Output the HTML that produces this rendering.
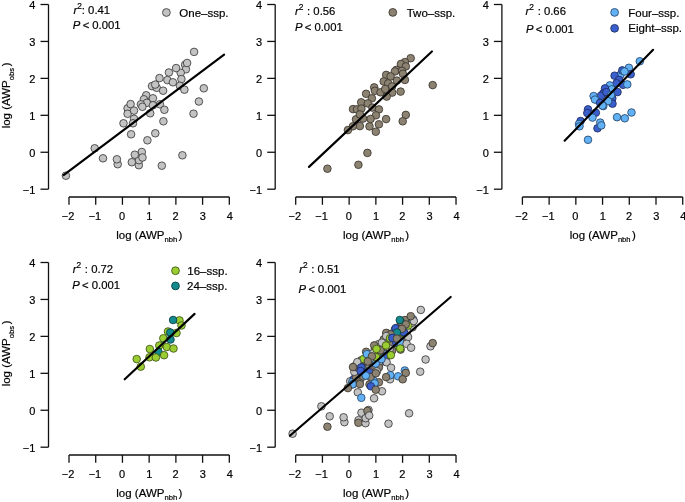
<!DOCTYPE html>
<html><head><meta charset="utf-8"><style>
html,body{margin:0;padding:0;background:#fff;}
svg{display:block;will-change:transform;}
text{font-family:"Liberation Sans", sans-serif;font-size:11px;fill:#000;stroke:#000;stroke-width:0.2px;}
.ax{stroke:#111;stroke-width:1.3;fill:none;}
.reg{stroke:#000;stroke-width:2.15;fill:none;stroke-linecap:round;}
.pt{stroke-width:0.85;}
</style></head><body>
<svg width="685" height="502" viewBox="0 0 685 502">
<g transform="translate(0,0)">
<path d="M48.5,4.5V189.2" class="ax"/>
<path d="M48.5,189.20H40.5" class="ax"/>
<text x="35.4" y="193.60" text-anchor="end">−1</text>
<path d="M48.5,152.26H40.5" class="ax"/>
<text x="35.4" y="156.66" text-anchor="end">0</text>
<path d="M48.5,115.32H40.5" class="ax"/>
<text x="35.4" y="119.72" text-anchor="end">1</text>
<path d="M48.5,78.38H40.5" class="ax"/>
<text x="35.4" y="82.78" text-anchor="end">2</text>
<path d="M48.5,41.44H40.5" class="ax"/>
<text x="35.4" y="45.84" text-anchor="end">3</text>
<path d="M48.5,4.50H40.5" class="ax"/>
<text x="35.4" y="8.90" text-anchor="end">4</text>
<path d="M69.0,197.0H229.32" class="ax"/>
<path d="M69.00,197.0V204.8" class="ax"/>
<text x="68.10" y="219.6" text-anchor="middle">−2</text>
<path d="M95.72,197.0V204.8" class="ax"/>
<text x="94.92" y="219.6" text-anchor="middle">−1</text>
<path d="M122.44,197.0V204.8" class="ax"/>
<text x="122.04" y="219.6" text-anchor="middle">0</text>
<path d="M149.16,197.0V204.8" class="ax"/>
<text x="149.36" y="219.6" text-anchor="middle">1</text>
<path d="M175.88,197.0V204.8" class="ax"/>
<text x="175.68" y="219.6" text-anchor="middle">2</text>
<path d="M202.60,197.0V204.8" class="ax"/>
<text x="202.80" y="219.6" text-anchor="middle">3</text>
<path d="M229.32,197.0V204.8" class="ax"/>
<text x="229.92" y="219.6" text-anchor="middle">4</text>
<text x="116.3" y="238.8" style="font-size:11.5px">log (AWP<tspan x="164.5" style="font-size:7.6px" dy="3.6">nbh</tspan><tspan x="178.6" dy="-3.6">)</tspan></text>
<text transform="translate(10.0,128.35) rotate(-90)" style="font-size:11.5px">log (AWP<tspan x="48.2" style="font-size:7.6px" dy="3.6">obs</tspan><tspan x="62.0" dy="-3.6">)</tspan></text>
</g>
<g transform="translate(226.7,0)">
<path d="M48.5,4.5V189.2" class="ax"/>
<path d="M48.5,189.20H40.5" class="ax"/>
<text x="35.4" y="193.60" text-anchor="end">−1</text>
<path d="M48.5,152.26H40.5" class="ax"/>
<text x="35.4" y="156.66" text-anchor="end">0</text>
<path d="M48.5,115.32H40.5" class="ax"/>
<text x="35.4" y="119.72" text-anchor="end">1</text>
<path d="M48.5,78.38H40.5" class="ax"/>
<text x="35.4" y="82.78" text-anchor="end">2</text>
<path d="M48.5,41.44H40.5" class="ax"/>
<text x="35.4" y="45.84" text-anchor="end">3</text>
<path d="M48.5,4.50H40.5" class="ax"/>
<text x="35.4" y="8.90" text-anchor="end">4</text>
<path d="M69.0,197.0H229.32" class="ax"/>
<path d="M69.00,197.0V204.8" class="ax"/>
<text x="68.10" y="219.6" text-anchor="middle">−2</text>
<path d="M95.72,197.0V204.8" class="ax"/>
<text x="94.92" y="219.6" text-anchor="middle">−1</text>
<path d="M122.44,197.0V204.8" class="ax"/>
<text x="122.04" y="219.6" text-anchor="middle">0</text>
<path d="M149.16,197.0V204.8" class="ax"/>
<text x="149.36" y="219.6" text-anchor="middle">1</text>
<path d="M175.88,197.0V204.8" class="ax"/>
<text x="175.68" y="219.6" text-anchor="middle">2</text>
<path d="M202.60,197.0V204.8" class="ax"/>
<text x="202.80" y="219.6" text-anchor="middle">3</text>
<path d="M229.32,197.0V204.8" class="ax"/>
<text x="229.92" y="219.6" text-anchor="middle">4</text>
<text x="116.3" y="238.8" style="font-size:11.5px">log (AWP<tspan x="164.5" style="font-size:7.6px" dy="3.6">nbh</tspan><tspan x="178.6" dy="-3.6">)</tspan></text>
</g>
<g transform="translate(453.4,0)">
<path d="M48.5,4.5V189.2" class="ax"/>
<path d="M48.5,189.20H40.5" class="ax"/>
<text x="35.4" y="193.60" text-anchor="end">−1</text>
<path d="M48.5,152.26H40.5" class="ax"/>
<text x="35.4" y="156.66" text-anchor="end">0</text>
<path d="M48.5,115.32H40.5" class="ax"/>
<text x="35.4" y="119.72" text-anchor="end">1</text>
<path d="M48.5,78.38H40.5" class="ax"/>
<text x="35.4" y="82.78" text-anchor="end">2</text>
<path d="M48.5,41.44H40.5" class="ax"/>
<text x="35.4" y="45.84" text-anchor="end">3</text>
<path d="M48.5,4.50H40.5" class="ax"/>
<text x="35.4" y="8.90" text-anchor="end">4</text>
<path d="M69.0,197.0H229.32" class="ax"/>
<path d="M69.00,197.0V204.8" class="ax"/>
<text x="68.10" y="219.6" text-anchor="middle">−2</text>
<path d="M95.72,197.0V204.8" class="ax"/>
<text x="94.92" y="219.6" text-anchor="middle">−1</text>
<path d="M122.44,197.0V204.8" class="ax"/>
<text x="122.04" y="219.6" text-anchor="middle">0</text>
<path d="M149.16,197.0V204.8" class="ax"/>
<text x="149.36" y="219.6" text-anchor="middle">1</text>
<path d="M175.88,197.0V204.8" class="ax"/>
<text x="175.68" y="219.6" text-anchor="middle">2</text>
<path d="M202.60,197.0V204.8" class="ax"/>
<text x="202.80" y="219.6" text-anchor="middle">3</text>
<path d="M229.32,197.0V204.8" class="ax"/>
<text x="229.92" y="219.6" text-anchor="middle">4</text>
<text x="116.3" y="238.8" style="font-size:11.5px">log (AWP<tspan x="164.5" style="font-size:7.6px" dy="3.6">nbh</tspan><tspan x="178.6" dy="-3.6">)</tspan></text>
</g>
<g transform="translate(0,258)">
<path d="M48.5,4.5V189.2" class="ax"/>
<path d="M48.5,189.20H40.5" class="ax"/>
<text x="35.4" y="193.60" text-anchor="end">−1</text>
<path d="M48.5,152.26H40.5" class="ax"/>
<text x="35.4" y="156.66" text-anchor="end">0</text>
<path d="M48.5,115.32H40.5" class="ax"/>
<text x="35.4" y="119.72" text-anchor="end">1</text>
<path d="M48.5,78.38H40.5" class="ax"/>
<text x="35.4" y="82.78" text-anchor="end">2</text>
<path d="M48.5,41.44H40.5" class="ax"/>
<text x="35.4" y="45.84" text-anchor="end">3</text>
<path d="M48.5,4.50H40.5" class="ax"/>
<text x="35.4" y="8.90" text-anchor="end">4</text>
<path d="M69.0,197.0H229.32" class="ax"/>
<path d="M69.00,197.0V204.8" class="ax"/>
<text x="68.10" y="219.6" text-anchor="middle">−2</text>
<path d="M95.72,197.0V204.8" class="ax"/>
<text x="94.92" y="219.6" text-anchor="middle">−1</text>
<path d="M122.44,197.0V204.8" class="ax"/>
<text x="122.04" y="219.6" text-anchor="middle">0</text>
<path d="M149.16,197.0V204.8" class="ax"/>
<text x="149.36" y="219.6" text-anchor="middle">1</text>
<path d="M175.88,197.0V204.8" class="ax"/>
<text x="175.68" y="219.6" text-anchor="middle">2</text>
<path d="M202.60,197.0V204.8" class="ax"/>
<text x="202.80" y="219.6" text-anchor="middle">3</text>
<path d="M229.32,197.0V204.8" class="ax"/>
<text x="229.92" y="219.6" text-anchor="middle">4</text>
<text x="116.3" y="238.8" style="font-size:11.5px">log (AWP<tspan x="164.5" style="font-size:7.6px" dy="3.6">nbh</tspan><tspan x="178.6" dy="-3.6">)</tspan></text>
<text transform="translate(10.0,128.35) rotate(-90)" style="font-size:11.5px">log (AWP<tspan x="48.2" style="font-size:7.6px" dy="3.6">obs</tspan><tspan x="62.0" dy="-3.6">)</tspan></text>
</g>
<g transform="translate(226.7,258)">
<path d="M48.5,4.5V189.2" class="ax"/>
<path d="M48.5,189.20H40.5" class="ax"/>
<text x="35.4" y="193.60" text-anchor="end">−1</text>
<path d="M48.5,152.26H40.5" class="ax"/>
<text x="35.4" y="156.66" text-anchor="end">0</text>
<path d="M48.5,115.32H40.5" class="ax"/>
<text x="35.4" y="119.72" text-anchor="end">1</text>
<path d="M48.5,78.38H40.5" class="ax"/>
<text x="35.4" y="82.78" text-anchor="end">2</text>
<path d="M48.5,41.44H40.5" class="ax"/>
<text x="35.4" y="45.84" text-anchor="end">3</text>
<path d="M48.5,4.50H40.5" class="ax"/>
<text x="35.4" y="8.90" text-anchor="end">4</text>
<path d="M69.0,197.0H229.32" class="ax"/>
<path d="M69.00,197.0V204.8" class="ax"/>
<text x="68.10" y="219.6" text-anchor="middle">−2</text>
<path d="M95.72,197.0V204.8" class="ax"/>
<text x="94.92" y="219.6" text-anchor="middle">−1</text>
<path d="M122.44,197.0V204.8" class="ax"/>
<text x="122.04" y="219.6" text-anchor="middle">0</text>
<path d="M149.16,197.0V204.8" class="ax"/>
<text x="149.36" y="219.6" text-anchor="middle">1</text>
<path d="M175.88,197.0V204.8" class="ax"/>
<text x="175.68" y="219.6" text-anchor="middle">2</text>
<path d="M202.60,197.0V204.8" class="ax"/>
<text x="202.80" y="219.6" text-anchor="middle">3</text>
<path d="M229.32,197.0V204.8" class="ax"/>
<text x="229.92" y="219.6" text-anchor="middle">4</text>
<text x="116.3" y="238.8" style="font-size:11.5px">log (AWP<tspan x="164.5" style="font-size:7.6px" dy="3.6">nbh</tspan><tspan x="178.6" dy="-3.6">)</tspan></text>
</g>
<text x="73.4" y="13.8" style="font-size:11.3px"><tspan font-style="italic">r</tspan><tspan style="font-size:8.4px" dy="-5.0">2</tspan><tspan dy="5.0" dx="0">: 0.41</tspan></text><text x="72.80000000000001" y="28.7" style="font-size:11.3px"><tspan font-style="italic">P</tspan><tspan dx="-0.8"> &lt; </tspan><tspan dx="-0.1">0.001</tspan></text>
<text x="295.0" y="14.6" style="font-size:11.3px"><tspan font-style="italic">r</tspan><tspan style="font-size:8.4px" dy="-5.0">2</tspan><tspan dy="5.0" dx="0.5"> : 0.56</tspan></text><text x="294.9" y="30.9" style="font-size:11.3px"><tspan font-style="italic">P</tspan><tspan dx="-0.8"> &lt; </tspan><tspan dx="-0.1">0.001</tspan></text>
<text x="525.6" y="14.6" style="font-size:11.3px"><tspan font-style="italic">r</tspan><tspan style="font-size:8.4px" dy="-5.0">2</tspan><tspan dy="5.0" dx="0.5"> : 0.66</tspan></text><text x="526.0" y="33.0" style="font-size:11.3px"><tspan font-style="italic">P</tspan><tspan dx="-0.8"> &lt; </tspan><tspan dx="-0.1">0.001</tspan></text>
<text x="72.8" y="272.5" style="font-size:11.3px"><tspan font-style="italic">r</tspan><tspan style="font-size:8.4px" dy="-5.0">2</tspan><tspan dy="5.0" dx="0.5"> : 0.72</tspan></text><text x="72.2" y="289.1" style="font-size:11.3px"><tspan font-style="italic">P</tspan><tspan dx="-0.8"> &lt; </tspan><tspan dx="-0.1">0.001</tspan></text>
<text x="299.2" y="272.5" style="font-size:11.3px"><tspan font-style="italic">r</tspan><tspan style="font-size:8.4px" dy="-5.0">2</tspan><tspan dy="5.0" dx="0.5"> : 0.51</tspan></text><text x="298.59999999999997" y="293.0" style="font-size:11.3px"><tspan font-style="italic">P</tspan><tspan dx="-0.8"> &lt; </tspan><tspan dx="-0.1">0.001</tspan></text>
<circle cx="166.4" cy="12.5" r="3.9" fill="#c3c3c3" stroke="#3a3a3a" class="pt"/><text x="179.3" y="16.6" style="font-size:11.5px">One–ssp.</text>
<circle cx="392.8" cy="12.4" r="3.9" fill="#8b8272" stroke="#3a342c" class="pt"/><text x="406.7" y="16.6" style="font-size:11.5px">Two–ssp.</text>
<circle cx="614.6" cy="12.4" r="3.9" fill="#63b1f5" stroke="#23476e" class="pt"/><text x="628.3" y="16.5" style="font-size:11.5px">Four–ssp.</text>
<circle cx="614.6" cy="28.3" r="3.9" fill="#3a5fcd" stroke="#1b2a60" class="pt"/><text x="628.3" y="32.0" style="font-size:11.5px">Eight–ssp.</text>
<circle cx="175.5" cy="270.7" r="3.9" fill="#9acd32" stroke="#3d5514" class="pt"/><text x="187.3" y="274.8" style="font-size:11.5px">16–ssp.</text>
<circle cx="175.5" cy="285.9" r="3.9" fill="#138a8e" stroke="#0a3c40" class="pt"/><text x="187.1" y="289.8" style="font-size:11.5px">24–ssp.</text>
<g transform="translate(0,0)">
<circle cx="194.1" cy="51.9" r="3.8" fill="#c3c3c3" stroke="#3a3a3a" class="pt"/>
<circle cx="185.1" cy="64.8" r="3.8" fill="#c3c3c3" stroke="#3a3a3a" class="pt"/>
<circle cx="185.9" cy="69.3" r="3.8" fill="#c3c3c3" stroke="#3a3a3a" class="pt"/>
<circle cx="187.1" cy="63.0" r="3.8" fill="#c3c3c3" stroke="#3a3a3a" class="pt"/>
<circle cx="180.7" cy="72.8" r="3.8" fill="#c3c3c3" stroke="#3a3a3a" class="pt"/>
<circle cx="176.1" cy="68.1" r="3.8" fill="#c3c3c3" stroke="#3a3a3a" class="pt"/>
<circle cx="168.9" cy="72.5" r="3.8" fill="#c3c3c3" stroke="#3a3a3a" class="pt"/>
<circle cx="181.4" cy="79.1" r="3.8" fill="#c3c3c3" stroke="#3a3a3a" class="pt"/>
<circle cx="159.5" cy="78.1" r="3.8" fill="#c3c3c3" stroke="#3a3a3a" class="pt"/>
<circle cx="167.4" cy="80.1" r="3.8" fill="#c3c3c3" stroke="#3a3a3a" class="pt"/>
<circle cx="172.9" cy="82.3" r="3.8" fill="#c3c3c3" stroke="#3a3a3a" class="pt"/>
<circle cx="152.0" cy="86.1" r="3.8" fill="#c3c3c3" stroke="#3a3a3a" class="pt"/>
<circle cx="156.7" cy="87.8" r="3.8" fill="#c3c3c3" stroke="#3a3a3a" class="pt"/>
<circle cx="155.2" cy="84.6" r="3.8" fill="#c3c3c3" stroke="#3a3a3a" class="pt"/>
<circle cx="179.9" cy="85.8" r="3.8" fill="#c3c3c3" stroke="#3a3a3a" class="pt"/>
<circle cx="184.4" cy="89.7" r="3.8" fill="#c3c3c3" stroke="#3a3a3a" class="pt"/>
<circle cx="203.8" cy="88.3" r="3.8" fill="#c3c3c3" stroke="#3a3a3a" class="pt"/>
<circle cx="163.1" cy="90.7" r="3.8" fill="#c3c3c3" stroke="#3a3a3a" class="pt"/>
<circle cx="146.2" cy="95.3" r="3.8" fill="#c3c3c3" stroke="#3a3a3a" class="pt"/>
<circle cx="152.9" cy="98.3" r="3.8" fill="#c3c3c3" stroke="#3a3a3a" class="pt"/>
<circle cx="143.9" cy="99.3" r="3.8" fill="#c3c3c3" stroke="#3a3a3a" class="pt"/>
<circle cx="146.9" cy="102.8" r="3.8" fill="#c3c3c3" stroke="#3a3a3a" class="pt"/>
<circle cx="140.9" cy="104.3" r="3.8" fill="#c3c3c3" stroke="#3a3a3a" class="pt"/>
<circle cx="142.4" cy="106.8" r="3.8" fill="#c3c3c3" stroke="#3a3a3a" class="pt"/>
<circle cx="159.9" cy="104.3" r="3.8" fill="#c3c3c3" stroke="#3a3a3a" class="pt"/>
<circle cx="152.9" cy="105.3" r="3.8" fill="#c3c3c3" stroke="#3a3a3a" class="pt"/>
<circle cx="150.2" cy="113.3" r="3.8" fill="#c3c3c3" stroke="#3a3a3a" class="pt"/>
<circle cx="164.4" cy="109.8" r="3.8" fill="#c3c3c3" stroke="#3a3a3a" class="pt"/>
<circle cx="127.6" cy="108.3" r="3.8" fill="#c3c3c3" stroke="#3a3a3a" class="pt"/>
<circle cx="130.6" cy="104.1" r="3.8" fill="#c3c3c3" stroke="#3a3a3a" class="pt"/>
<circle cx="127.6" cy="113.8" r="3.8" fill="#c3c3c3" stroke="#3a3a3a" class="pt"/>
<circle cx="134" cy="110.6" r="3.8" fill="#c3c3c3" stroke="#3a3a3a" class="pt"/>
<circle cx="134" cy="118.8" r="3.8" fill="#c3c3c3" stroke="#3a3a3a" class="pt"/>
<circle cx="123.5" cy="123.3" r="3.8" fill="#c3c3c3" stroke="#3a3a3a" class="pt"/>
<circle cx="163.4" cy="121.3" r="3.8" fill="#c3c3c3" stroke="#3a3a3a" class="pt"/>
<circle cx="133" cy="123.3" r="3.8" fill="#c3c3c3" stroke="#3a3a3a" class="pt"/>
<circle cx="131.1" cy="134.3" r="3.8" fill="#c3c3c3" stroke="#3a3a3a" class="pt"/>
<circle cx="155.3" cy="133.3" r="3.8" fill="#c3c3c3" stroke="#3a3a3a" class="pt"/>
<circle cx="147.4" cy="140.3" r="3.8" fill="#c3c3c3" stroke="#3a3a3a" class="pt"/>
<circle cx="103" cy="158.3" r="3.8" fill="#c3c3c3" stroke="#3a3a3a" class="pt"/>
<circle cx="117.7" cy="164.2" r="3.8" fill="#c3c3c3" stroke="#3a3a3a" class="pt"/>
<circle cx="116.9" cy="159.3" r="3.8" fill="#c3c3c3" stroke="#3a3a3a" class="pt"/>
<circle cx="138.8" cy="165.2" r="3.8" fill="#c3c3c3" stroke="#3a3a3a" class="pt"/>
<circle cx="141.8" cy="152.0" r="3.8" fill="#c3c3c3" stroke="#3a3a3a" class="pt"/>
<circle cx="139.0" cy="160.2" r="3.8" fill="#c3c3c3" stroke="#3a3a3a" class="pt"/>
<circle cx="142.5" cy="157.5" r="3.8" fill="#c3c3c3" stroke="#3a3a3a" class="pt"/>
<circle cx="134.8" cy="154.7" r="3.8" fill="#c3c3c3" stroke="#3a3a3a" class="pt"/>
<circle cx="131.8" cy="162.2" r="3.8" fill="#c3c3c3" stroke="#3a3a3a" class="pt"/>
<circle cx="161.8" cy="165.7" r="3.8" fill="#c3c3c3" stroke="#3a3a3a" class="pt"/>
<circle cx="198.9" cy="101.5" r="3.8" fill="#c3c3c3" stroke="#3a3a3a" class="pt"/>
<circle cx="193.5" cy="113.7" r="3.8" fill="#c3c3c3" stroke="#3a3a3a" class="pt"/>
<circle cx="182.4" cy="155.3" r="3.8" fill="#c3c3c3" stroke="#3a3a3a" class="pt"/>
<circle cx="65.9" cy="175.7" r="3.8" fill="#c3c3c3" stroke="#3a3a3a" class="pt"/>
<circle cx="94.7" cy="148.3" r="3.8" fill="#c3c3c3" stroke="#3a3a3a" class="pt"/>
</g>
<g transform="translate(226.7,0)">
<circle cx="184.0" cy="58.2" r="3.8" fill="#8b8272" stroke="#3a342c" class="pt"/>
<circle cx="178.2" cy="62.1" r="3.8" fill="#8b8272" stroke="#3a342c" class="pt"/>
<circle cx="174.2" cy="64.0" r="3.8" fill="#8b8272" stroke="#3a342c" class="pt"/>
<circle cx="179.1" cy="66.4" r="3.8" fill="#8b8272" stroke="#3a342c" class="pt"/>
<circle cx="169.7" cy="69.9" r="3.8" fill="#8b8272" stroke="#3a342c" class="pt"/>
<circle cx="175.2" cy="70.8" r="3.8" fill="#8b8272" stroke="#3a342c" class="pt"/>
<circle cx="168.2" cy="71.4" r="3.8" fill="#8b8272" stroke="#3a342c" class="pt"/>
<circle cx="176.2" cy="73.8" r="3.8" fill="#8b8272" stroke="#3a342c" class="pt"/>
<circle cx="159.5" cy="74.9" r="3.8" fill="#8b8272" stroke="#3a342c" class="pt"/>
<circle cx="163.9" cy="76.4" r="3.8" fill="#8b8272" stroke="#3a342c" class="pt"/>
<circle cx="178.2" cy="79.9" r="3.8" fill="#8b8272" stroke="#3a342c" class="pt"/>
<circle cx="170.2" cy="80.6" r="3.8" fill="#8b8272" stroke="#3a342c" class="pt"/>
<circle cx="157.0" cy="81.4" r="3.8" fill="#8b8272" stroke="#3a342c" class="pt"/>
<circle cx="161.5" cy="83.4" r="3.8" fill="#8b8272" stroke="#3a342c" class="pt"/>
<circle cx="165.4" cy="86.4" r="3.8" fill="#8b8272" stroke="#3a342c" class="pt"/>
<circle cx="147.5" cy="87.4" r="3.8" fill="#8b8272" stroke="#3a342c" class="pt"/>
<circle cx="148.2" cy="90.8" r="3.8" fill="#8b8272" stroke="#3a342c" class="pt"/>
<circle cx="153.8" cy="92.3" r="3.8" fill="#8b8272" stroke="#3a342c" class="pt"/>
<circle cx="158.5" cy="89.0" r="3.8" fill="#8b8272" stroke="#3a342c" class="pt"/>
<circle cx="173.9" cy="91.6" r="3.8" fill="#8b8272" stroke="#3a342c" class="pt"/>
<circle cx="165.5" cy="92.6" r="3.8" fill="#8b8272" stroke="#3a342c" class="pt"/>
<circle cx="206.0" cy="85.1" r="3.8" fill="#8b8272" stroke="#3a342c" class="pt"/>
<circle cx="160.0" cy="96.6" r="3.8" fill="#8b8272" stroke="#3a342c" class="pt"/>
<circle cx="139.4" cy="93.8" r="3.8" fill="#8b8272" stroke="#3a342c" class="pt"/>
<circle cx="145.2" cy="98.3" r="3.8" fill="#8b8272" stroke="#3a342c" class="pt"/>
<circle cx="134.5" cy="102.3" r="3.8" fill="#8b8272" stroke="#3a342c" class="pt"/>
<circle cx="141.1" cy="103.4" r="3.8" fill="#8b8272" stroke="#3a342c" class="pt"/>
<circle cx="126.3" cy="109.1" r="3.8" fill="#8b8272" stroke="#3a342c" class="pt"/>
<circle cx="130.3" cy="109.4" r="3.8" fill="#8b8272" stroke="#3a342c" class="pt"/>
<circle cx="134.7" cy="108.6" r="3.8" fill="#8b8272" stroke="#3a342c" class="pt"/>
<circle cx="145.7" cy="107.6" r="3.8" fill="#8b8272" stroke="#3a342c" class="pt"/>
<circle cx="152.2" cy="109.4" r="3.8" fill="#8b8272" stroke="#3a342c" class="pt"/>
<circle cx="149.2" cy="115.3" r="3.8" fill="#8b8272" stroke="#3a342c" class="pt"/>
<circle cx="129.3" cy="119.3" r="3.8" fill="#8b8272" stroke="#3a342c" class="pt"/>
<circle cx="136.4" cy="118.6" r="3.8" fill="#8b8272" stroke="#3a342c" class="pt"/>
<circle cx="143.9" cy="119.0" r="3.8" fill="#8b8272" stroke="#3a342c" class="pt"/>
<circle cx="159.4" cy="119.1" r="3.8" fill="#8b8272" stroke="#3a342c" class="pt"/>
<circle cx="133.2" cy="114.4" r="3.8" fill="#8b8272" stroke="#3a342c" class="pt"/>
<circle cx="133.2" cy="126.1" r="3.8" fill="#8b8272" stroke="#3a342c" class="pt"/>
<circle cx="126.2" cy="126.3" r="3.8" fill="#8b8272" stroke="#3a342c" class="pt"/>
<circle cx="121.2" cy="130.1" r="3.8" fill="#8b8272" stroke="#3a342c" class="pt"/>
<circle cx="142.8" cy="126.4" r="3.8" fill="#8b8272" stroke="#3a342c" class="pt"/>
<circle cx="152.2" cy="124.3" r="3.8" fill="#8b8272" stroke="#3a342c" class="pt"/>
<circle cx="149.1" cy="131.7" r="3.8" fill="#8b8272" stroke="#3a342c" class="pt"/>
<circle cx="179.1" cy="114.9" r="3.8" fill="#8b8272" stroke="#3a342c" class="pt"/>
<circle cx="176.0" cy="121.3" r="3.8" fill="#8b8272" stroke="#3a342c" class="pt"/>
<circle cx="140.7" cy="152.9" r="3.8" fill="#8b8272" stroke="#3a342c" class="pt"/>
<circle cx="131.7" cy="164.8" r="3.8" fill="#8b8272" stroke="#3a342c" class="pt"/>
<circle cx="100.7" cy="168.7" r="3.8" fill="#8b8272" stroke="#3a342c" class="pt"/>
</g>
<g transform="translate(453.4,0)">
<circle cx="167.1" cy="74.8" r="3.8" fill="#63b1f5" stroke="#23476e" class="pt"/>
<circle cx="168.9" cy="70.4" r="3.8" fill="#3a5fcd" stroke="#1b2a60" class="pt"/>
<circle cx="186.4" cy="61.3" r="3.8" fill="#63b1f5" stroke="#23476e" class="pt"/>
<circle cx="175.5" cy="67.8" r="3.8" fill="#63b1f5" stroke="#23476e" class="pt"/>
<circle cx="177.3" cy="74.3" r="3.8" fill="#3a5fcd" stroke="#1b2a60" class="pt"/>
<circle cx="161.2" cy="75.7" r="3.8" fill="#3a5fcd" stroke="#1b2a60" class="pt"/>
<circle cx="171.1" cy="71.5" r="3.8" fill="#63b1f5" stroke="#23476e" class="pt"/>
<circle cx="165.6" cy="79.9" r="3.8" fill="#3a5fcd" stroke="#1b2a60" class="pt"/>
<circle cx="169.6" cy="84.8" r="3.8" fill="#3a5fcd" stroke="#1b2a60" class="pt"/>
<circle cx="173.9" cy="84.4" r="3.8" fill="#63b1f5" stroke="#23476e" class="pt"/>
<circle cx="163.1" cy="83.3" r="3.8" fill="#3a5fcd" stroke="#1b2a60" class="pt"/>
<circle cx="156.4" cy="85.4" r="3.8" fill="#63b1f5" stroke="#23476e" class="pt"/>
<circle cx="158.3" cy="89.4" r="3.8" fill="#63b1f5" stroke="#23476e" class="pt"/>
<circle cx="151.6" cy="88.4" r="3.8" fill="#3a5fcd" stroke="#1b2a60" class="pt"/>
<circle cx="164.1" cy="92.1" r="3.8" fill="#3a5fcd" stroke="#1b2a60" class="pt"/>
<circle cx="149.9" cy="93.3" r="3.8" fill="#3a5fcd" stroke="#1b2a60" class="pt"/>
<circle cx="147.6" cy="95.7" r="3.8" fill="#3a5fcd" stroke="#1b2a60" class="pt"/>
<circle cx="140.2" cy="96.1" r="3.8" fill="#63b1f5" stroke="#23476e" class="pt"/>
<circle cx="141.6" cy="99.6" r="3.8" fill="#63b1f5" stroke="#23476e" class="pt"/>
<circle cx="152.9" cy="92.1" r="3.8" fill="#3a5fcd" stroke="#1b2a60" class="pt"/>
<circle cx="158.9" cy="98.3" r="3.8" fill="#3a5fcd" stroke="#1b2a60" class="pt"/>
<circle cx="157.6" cy="95.1" r="3.8" fill="#63b1f5" stroke="#23476e" class="pt"/>
<circle cx="159.1" cy="103.7" r="3.8" fill="#3a5fcd" stroke="#1b2a60" class="pt"/>
<circle cx="154.7" cy="101.1" r="3.8" fill="#63b1f5" stroke="#23476e" class="pt"/>
<circle cx="146.7" cy="102.9" r="3.8" fill="#3a5fcd" stroke="#1b2a60" class="pt"/>
<circle cx="149.9" cy="106.1" r="3.8" fill="#63b1f5" stroke="#23476e" class="pt"/>
<circle cx="149.1" cy="105.6" r="3.8" fill="#63b1f5" stroke="#23476e" class="pt"/>
<circle cx="134.6" cy="109.4" r="3.8" fill="#3a5fcd" stroke="#1b2a60" class="pt"/>
<circle cx="133.9" cy="113.0" r="3.8" fill="#3a5fcd" stroke="#1b2a60" class="pt"/>
<circle cx="142.4" cy="112.7" r="3.8" fill="#3a5fcd" stroke="#1b2a60" class="pt"/>
<circle cx="139.1" cy="117.6" r="3.8" fill="#63b1f5" stroke="#23476e" class="pt"/>
<circle cx="127.2" cy="121.0" r="3.8" fill="#3a5fcd" stroke="#1b2a60" class="pt"/>
<circle cx="125.6" cy="124.0" r="3.8" fill="#63b1f5" stroke="#23476e" class="pt"/>
<circle cx="126.1" cy="126.3" r="3.8" fill="#63b1f5" stroke="#23476e" class="pt"/>
<circle cx="144.1" cy="128.3" r="3.8" fill="#3a5fcd" stroke="#1b2a60" class="pt"/>
<circle cx="146.8" cy="122.6" r="3.8" fill="#63b1f5" stroke="#23476e" class="pt"/>
<circle cx="147.9" cy="125.4" r="3.8" fill="#63b1f5" stroke="#23476e" class="pt"/>
<circle cx="163.6" cy="117.2" r="3.8" fill="#63b1f5" stroke="#23476e" class="pt"/>
<circle cx="171.4" cy="118.3" r="3.8" fill="#63b1f5" stroke="#23476e" class="pt"/>
<circle cx="178.1" cy="112.5" r="3.8" fill="#63b1f5" stroke="#23476e" class="pt"/>
<circle cx="134.6" cy="139.8" r="3.8" fill="#63b1f5" stroke="#23476e" class="pt"/>
</g>
<g transform="translate(0,258)">
<circle cx="179.5" cy="62.4" r="3.8" fill="#9acd32" stroke="#3d5514" class="pt"/>
<circle cx="173.1" cy="62.0" r="3.8" fill="#138a8e" stroke="#0a3c40" class="pt"/>
<circle cx="181.5" cy="67.5" r="3.8" fill="#9acd32" stroke="#3d5514" class="pt"/>
<circle cx="176.5" cy="75.0" r="3.8" fill="#9acd32" stroke="#3d5514" class="pt"/>
<circle cx="168.0" cy="73.5" r="3.8" fill="#9acd32" stroke="#3d5514" class="pt"/>
<circle cx="170.3" cy="74.5" r="3.8" fill="#138a8e" stroke="#0a3c40" class="pt"/>
<circle cx="163.3" cy="80.3" r="3.8" fill="#9acd32" stroke="#3d5514" class="pt"/>
<circle cx="170.5" cy="81.5" r="3.8" fill="#138a8e" stroke="#0a3c40" class="pt"/>
<circle cx="159.3" cy="87.5" r="3.8" fill="#9acd32" stroke="#3d5514" class="pt"/>
<circle cx="166.8" cy="89.0" r="3.8" fill="#9acd32" stroke="#3d5514" class="pt"/>
<circle cx="173.5" cy="90.5" r="3.8" fill="#9acd32" stroke="#3d5514" class="pt"/>
<circle cx="149.8" cy="91.0" r="3.8" fill="#9acd32" stroke="#3d5514" class="pt"/>
<circle cx="158.5" cy="94.0" r="3.8" fill="#138a8e" stroke="#0a3c40" class="pt"/>
<circle cx="149.5" cy="99.3" r="3.8" fill="#9acd32" stroke="#3d5514" class="pt"/>
<circle cx="155.9" cy="99.5" r="3.8" fill="#9acd32" stroke="#3d5514" class="pt"/>
<circle cx="164.1" cy="97.2" r="3.8" fill="#9acd32" stroke="#3d5514" class="pt"/>
<circle cx="136.7" cy="101.1" r="3.8" fill="#9acd32" stroke="#3d5514" class="pt"/>
<circle cx="140.8" cy="108.7" r="3.8" fill="#9acd32" stroke="#3d5514" class="pt"/>
</g>
<g transform="translate(226.7,258)">
<circle cx="155.3" cy="133.3" r="3.8" fill="#c3c3c3" stroke="#3a3a3a" class="pt"/>
<circle cx="168.9" cy="72.5" r="3.8" fill="#c3c3c3" stroke="#3a3a3a" class="pt"/>
<circle cx="143.9" cy="99.3" r="3.8" fill="#c3c3c3" stroke="#3a3a3a" class="pt"/>
<circle cx="161.8" cy="165.7" r="3.8" fill="#c3c3c3" stroke="#3a3a3a" class="pt"/>
<circle cx="100.7" cy="168.7" r="3.8" fill="#8b8272" stroke="#3a342c" class="pt"/>
<circle cx="152.2" cy="124.3" r="3.8" fill="#8b8272" stroke="#3a342c" class="pt"/>
<circle cx="182.4" cy="155.3" r="3.8" fill="#c3c3c3" stroke="#3a3a3a" class="pt"/>
<circle cx="178.2" cy="79.9" r="3.8" fill="#8b8272" stroke="#3a342c" class="pt"/>
<circle cx="134" cy="118.8" r="3.8" fill="#c3c3c3" stroke="#3a3a3a" class="pt"/>
<circle cx="175.5" cy="67.8" r="3.8" fill="#63b1f5" stroke="#23476e" class="pt"/>
<circle cx="123.5" cy="123.3" r="3.8" fill="#c3c3c3" stroke="#3a3a3a" class="pt"/>
<circle cx="185.9" cy="69.3" r="3.8" fill="#c3c3c3" stroke="#3a3a3a" class="pt"/>
<circle cx="127.2" cy="121.0" r="3.8" fill="#3a5fcd" stroke="#1b2a60" class="pt"/>
<circle cx="149.9" cy="106.1" r="3.8" fill="#63b1f5" stroke="#23476e" class="pt"/>
<circle cx="157.0" cy="81.4" r="3.8" fill="#8b8272" stroke="#3a342c" class="pt"/>
<circle cx="133" cy="123.3" r="3.8" fill="#c3c3c3" stroke="#3a3a3a" class="pt"/>
<circle cx="179.5" cy="62.4" r="3.8" fill="#9acd32" stroke="#3d5514" class="pt"/>
<circle cx="140.8" cy="108.7" r="3.8" fill="#9acd32" stroke="#3d5514" class="pt"/>
<circle cx="164.1" cy="92.1" r="3.8" fill="#3a5fcd" stroke="#1b2a60" class="pt"/>
<circle cx="171.1" cy="71.5" r="3.8" fill="#63b1f5" stroke="#23476e" class="pt"/>
<circle cx="180.7" cy="72.8" r="3.8" fill="#c3c3c3" stroke="#3a3a3a" class="pt"/>
<circle cx="156.4" cy="85.4" r="3.8" fill="#63b1f5" stroke="#23476e" class="pt"/>
<circle cx="151.6" cy="88.4" r="3.8" fill="#3a5fcd" stroke="#1b2a60" class="pt"/>
<circle cx="178.2" cy="62.1" r="3.8" fill="#8b8272" stroke="#3a342c" class="pt"/>
<circle cx="152.9" cy="105.3" r="3.8" fill="#c3c3c3" stroke="#3a3a3a" class="pt"/>
<circle cx="134.7" cy="108.6" r="3.8" fill="#8b8272" stroke="#3a342c" class="pt"/>
<circle cx="160.0" cy="96.6" r="3.8" fill="#8b8272" stroke="#3a342c" class="pt"/>
<circle cx="152.9" cy="92.1" r="3.8" fill="#3a5fcd" stroke="#1b2a60" class="pt"/>
<circle cx="152.2" cy="109.4" r="3.8" fill="#8b8272" stroke="#3a342c" class="pt"/>
<circle cx="176.5" cy="75.0" r="3.8" fill="#9acd32" stroke="#3d5514" class="pt"/>
<circle cx="103" cy="158.3" r="3.8" fill="#c3c3c3" stroke="#3a3a3a" class="pt"/>
<circle cx="185.1" cy="64.8" r="3.8" fill="#c3c3c3" stroke="#3a3a3a" class="pt"/>
<circle cx="168.0" cy="73.5" r="3.8" fill="#9acd32" stroke="#3d5514" class="pt"/>
<circle cx="149.9" cy="93.3" r="3.8" fill="#3a5fcd" stroke="#1b2a60" class="pt"/>
<circle cx="127.6" cy="108.3" r="3.8" fill="#c3c3c3" stroke="#3a3a3a" class="pt"/>
<circle cx="65.9" cy="175.7" r="3.8" fill="#c3c3c3" stroke="#3a3a3a" class="pt"/>
<circle cx="146.7" cy="102.9" r="3.8" fill="#3a5fcd" stroke="#1b2a60" class="pt"/>
<circle cx="158.3" cy="89.4" r="3.8" fill="#63b1f5" stroke="#23476e" class="pt"/>
<circle cx="159.1" cy="103.7" r="3.8" fill="#3a5fcd" stroke="#1b2a60" class="pt"/>
<circle cx="168.2" cy="71.4" r="3.8" fill="#8b8272" stroke="#3a342c" class="pt"/>
<circle cx="142.4" cy="112.7" r="3.8" fill="#3a5fcd" stroke="#1b2a60" class="pt"/>
<circle cx="163.1" cy="83.3" r="3.8" fill="#3a5fcd" stroke="#1b2a60" class="pt"/>
<circle cx="142.8" cy="126.4" r="3.8" fill="#8b8272" stroke="#3a342c" class="pt"/>
<circle cx="167.1" cy="74.8" r="3.8" fill="#63b1f5" stroke="#23476e" class="pt"/>
<circle cx="145.7" cy="107.6" r="3.8" fill="#8b8272" stroke="#3a342c" class="pt"/>
<circle cx="176.1" cy="68.1" r="3.8" fill="#c3c3c3" stroke="#3a3a3a" class="pt"/>
<circle cx="147.6" cy="95.7" r="3.8" fill="#3a5fcd" stroke="#1b2a60" class="pt"/>
<circle cx="152.9" cy="98.3" r="3.8" fill="#c3c3c3" stroke="#3a3a3a" class="pt"/>
<circle cx="136.4" cy="118.6" r="3.8" fill="#8b8272" stroke="#3a342c" class="pt"/>
<circle cx="146.9" cy="102.8" r="3.8" fill="#c3c3c3" stroke="#3a3a3a" class="pt"/>
<circle cx="158.5" cy="94.0" r="3.8" fill="#138a8e" stroke="#0a3c40" class="pt"/>
<circle cx="166.8" cy="89.0" r="3.8" fill="#9acd32" stroke="#3d5514" class="pt"/>
<circle cx="139.4" cy="93.8" r="3.8" fill="#8b8272" stroke="#3a342c" class="pt"/>
<circle cx="170.5" cy="81.5" r="3.8" fill="#138a8e" stroke="#0a3c40" class="pt"/>
<circle cx="146.8" cy="122.6" r="3.8" fill="#63b1f5" stroke="#23476e" class="pt"/>
<circle cx="141.8" cy="152.0" r="3.8" fill="#c3c3c3" stroke="#3a3a3a" class="pt"/>
<circle cx="161.5" cy="83.4" r="3.8" fill="#8b8272" stroke="#3a342c" class="pt"/>
<circle cx="172.9" cy="82.3" r="3.8" fill="#c3c3c3" stroke="#3a3a3a" class="pt"/>
<circle cx="143.9" cy="119.0" r="3.8" fill="#8b8272" stroke="#3a342c" class="pt"/>
<circle cx="134.8" cy="154.7" r="3.8" fill="#c3c3c3" stroke="#3a3a3a" class="pt"/>
<circle cx="169.7" cy="69.9" r="3.8" fill="#8b8272" stroke="#3a342c" class="pt"/>
<circle cx="141.6" cy="99.6" r="3.8" fill="#63b1f5" stroke="#23476e" class="pt"/>
<circle cx="165.4" cy="86.4" r="3.8" fill="#8b8272" stroke="#3a342c" class="pt"/>
<circle cx="157.6" cy="95.1" r="3.8" fill="#63b1f5" stroke="#23476e" class="pt"/>
<circle cx="150.2" cy="113.3" r="3.8" fill="#c3c3c3" stroke="#3a3a3a" class="pt"/>
<circle cx="134.5" cy="102.3" r="3.8" fill="#8b8272" stroke="#3a342c" class="pt"/>
<circle cx="181.4" cy="79.1" r="3.8" fill="#c3c3c3" stroke="#3a3a3a" class="pt"/>
<circle cx="158.5" cy="89.0" r="3.8" fill="#8b8272" stroke="#3a342c" class="pt"/>
<circle cx="133.2" cy="114.4" r="3.8" fill="#8b8272" stroke="#3a342c" class="pt"/>
<circle cx="148.2" cy="90.8" r="3.8" fill="#8b8272" stroke="#3a342c" class="pt"/>
<circle cx="125.6" cy="124.0" r="3.8" fill="#63b1f5" stroke="#23476e" class="pt"/>
<circle cx="173.9" cy="91.6" r="3.8" fill="#8b8272" stroke="#3a342c" class="pt"/>
<circle cx="129.3" cy="119.3" r="3.8" fill="#8b8272" stroke="#3a342c" class="pt"/>
<circle cx="127.6" cy="113.8" r="3.8" fill="#c3c3c3" stroke="#3a3a3a" class="pt"/>
<circle cx="181.5" cy="67.5" r="3.8" fill="#9acd32" stroke="#3d5514" class="pt"/>
<circle cx="165.5" cy="92.6" r="3.8" fill="#8b8272" stroke="#3a342c" class="pt"/>
<circle cx="152.0" cy="86.1" r="3.8" fill="#c3c3c3" stroke="#3a3a3a" class="pt"/>
<circle cx="174.2" cy="64.0" r="3.8" fill="#8b8272" stroke="#3a342c" class="pt"/>
<circle cx="155.9" cy="99.5" r="3.8" fill="#9acd32" stroke="#3d5514" class="pt"/>
<circle cx="179.1" cy="66.4" r="3.8" fill="#8b8272" stroke="#3a342c" class="pt"/>
<circle cx="134" cy="110.6" r="3.8" fill="#c3c3c3" stroke="#3a3a3a" class="pt"/>
<circle cx="161.2" cy="75.7" r="3.8" fill="#3a5fcd" stroke="#1b2a60" class="pt"/>
<circle cx="142.4" cy="106.8" r="3.8" fill="#c3c3c3" stroke="#3a3a3a" class="pt"/>
<circle cx="176.2" cy="73.8" r="3.8" fill="#8b8272" stroke="#3a342c" class="pt"/>
<circle cx="163.1" cy="90.7" r="3.8" fill="#c3c3c3" stroke="#3a3a3a" class="pt"/>
<circle cx="177.3" cy="74.3" r="3.8" fill="#3a5fcd" stroke="#1b2a60" class="pt"/>
<circle cx="169.6" cy="84.8" r="3.8" fill="#3a5fcd" stroke="#1b2a60" class="pt"/>
<circle cx="140.9" cy="104.3" r="3.8" fill="#c3c3c3" stroke="#3a3a3a" class="pt"/>
<circle cx="167.4" cy="80.1" r="3.8" fill="#c3c3c3" stroke="#3a3a3a" class="pt"/>
<circle cx="149.1" cy="105.6" r="3.8" fill="#63b1f5" stroke="#23476e" class="pt"/>
<circle cx="126.2" cy="126.3" r="3.8" fill="#8b8272" stroke="#3a342c" class="pt"/>
<circle cx="146.2" cy="95.3" r="3.8" fill="#c3c3c3" stroke="#3a3a3a" class="pt"/>
<circle cx="156.7" cy="87.8" r="3.8" fill="#c3c3c3" stroke="#3a3a3a" class="pt"/>
<circle cx="130.3" cy="109.4" r="3.8" fill="#8b8272" stroke="#3a342c" class="pt"/>
<circle cx="203.8" cy="88.3" r="3.8" fill="#c3c3c3" stroke="#3a3a3a" class="pt"/>
<circle cx="206.0" cy="85.1" r="3.8" fill="#8b8272" stroke="#3a342c" class="pt"/>
<circle cx="186.4" cy="61.3" r="3.8" fill="#63b1f5" stroke="#23476e" class="pt"/>
<circle cx="187.1" cy="63.0" r="3.8" fill="#c3c3c3" stroke="#3a3a3a" class="pt"/>
<circle cx="184.0" cy="58.2" r="3.8" fill="#8b8272" stroke="#3a342c" class="pt"/>
<circle cx="194.1" cy="51.9" r="3.8" fill="#c3c3c3" stroke="#3a3a3a" class="pt"/>
<circle cx="168.9" cy="70.4" r="3.8" fill="#3a5fcd" stroke="#1b2a60" class="pt"/>
<circle cx="175.2" cy="70.8" r="3.8" fill="#8b8272" stroke="#3a342c" class="pt"/>
<circle cx="170.3" cy="74.5" r="3.8" fill="#138a8e" stroke="#0a3c40" class="pt"/>
<circle cx="159.5" cy="74.9" r="3.8" fill="#8b8272" stroke="#3a342c" class="pt"/>
<circle cx="163.9" cy="76.4" r="3.8" fill="#8b8272" stroke="#3a342c" class="pt"/>
<circle cx="159.5" cy="78.1" r="3.8" fill="#c3c3c3" stroke="#3a3a3a" class="pt"/>
<circle cx="173.9" cy="84.4" r="3.8" fill="#63b1f5" stroke="#23476e" class="pt"/>
<circle cx="179.9" cy="85.8" r="3.8" fill="#c3c3c3" stroke="#3a3a3a" class="pt"/>
<circle cx="184.4" cy="89.7" r="3.8" fill="#c3c3c3" stroke="#3a3a3a" class="pt"/>
<circle cx="147.5" cy="87.4" r="3.8" fill="#8b8272" stroke="#3a342c" class="pt"/>
<circle cx="155.2" cy="84.6" r="3.8" fill="#c3c3c3" stroke="#3a3a3a" class="pt"/>
<circle cx="163.3" cy="80.3" r="3.8" fill="#9acd32" stroke="#3d5514" class="pt"/>
<circle cx="165.6" cy="79.9" r="3.8" fill="#3a5fcd" stroke="#1b2a60" class="pt"/>
<circle cx="170.2" cy="80.6" r="3.8" fill="#8b8272" stroke="#3a342c" class="pt"/>
<circle cx="173.1" cy="62.0" r="3.8" fill="#138a8e" stroke="#0a3c40" class="pt"/>
<circle cx="158.9" cy="98.3" r="3.8" fill="#3a5fcd" stroke="#1b2a60" class="pt"/>
<circle cx="159.9" cy="104.3" r="3.8" fill="#c3c3c3" stroke="#3a3a3a" class="pt"/>
<circle cx="164.4" cy="109.8" r="3.8" fill="#c3c3c3" stroke="#3a3a3a" class="pt"/>
<circle cx="163.4" cy="121.3" r="3.8" fill="#c3c3c3" stroke="#3a3a3a" class="pt"/>
<circle cx="154.7" cy="101.1" r="3.8" fill="#63b1f5" stroke="#23476e" class="pt"/>
<circle cx="153.8" cy="92.3" r="3.8" fill="#8b8272" stroke="#3a342c" class="pt"/>
<circle cx="159.3" cy="87.5" r="3.8" fill="#9acd32" stroke="#3d5514" class="pt"/>
<circle cx="149.8" cy="91.0" r="3.8" fill="#9acd32" stroke="#3d5514" class="pt"/>
<circle cx="173.5" cy="90.5" r="3.8" fill="#9acd32" stroke="#3d5514" class="pt"/>
<circle cx="164.1" cy="97.2" r="3.8" fill="#9acd32" stroke="#3d5514" class="pt"/>
<circle cx="149.5" cy="99.3" r="3.8" fill="#9acd32" stroke="#3d5514" class="pt"/>
<circle cx="136.7" cy="101.1" r="3.8" fill="#9acd32" stroke="#3d5514" class="pt"/>
<circle cx="140.2" cy="96.1" r="3.8" fill="#63b1f5" stroke="#23476e" class="pt"/>
<circle cx="145.2" cy="98.3" r="3.8" fill="#8b8272" stroke="#3a342c" class="pt"/>
<circle cx="141.1" cy="103.4" r="3.8" fill="#8b8272" stroke="#3a342c" class="pt"/>
<circle cx="130.6" cy="104.1" r="3.8" fill="#c3c3c3" stroke="#3a3a3a" class="pt"/>
<circle cx="126.3" cy="109.1" r="3.8" fill="#8b8272" stroke="#3a342c" class="pt"/>
<circle cx="134.6" cy="109.4" r="3.8" fill="#3a5fcd" stroke="#1b2a60" class="pt"/>
<circle cx="133.9" cy="113.0" r="3.8" fill="#3a5fcd" stroke="#1b2a60" class="pt"/>
<circle cx="139.1" cy="117.6" r="3.8" fill="#63b1f5" stroke="#23476e" class="pt"/>
<circle cx="149.2" cy="115.3" r="3.8" fill="#8b8272" stroke="#3a342c" class="pt"/>
<circle cx="163.6" cy="117.2" r="3.8" fill="#63b1f5" stroke="#23476e" class="pt"/>
<circle cx="171.4" cy="118.3" r="3.8" fill="#63b1f5" stroke="#23476e" class="pt"/>
<circle cx="159.4" cy="119.1" r="3.8" fill="#8b8272" stroke="#3a342c" class="pt"/>
<circle cx="178.1" cy="112.5" r="3.8" fill="#63b1f5" stroke="#23476e" class="pt"/>
<circle cx="179.1" cy="114.9" r="3.8" fill="#8b8272" stroke="#3a342c" class="pt"/>
<circle cx="176.0" cy="121.3" r="3.8" fill="#8b8272" stroke="#3a342c" class="pt"/>
<circle cx="147.9" cy="125.4" r="3.8" fill="#63b1f5" stroke="#23476e" class="pt"/>
<circle cx="144.1" cy="128.3" r="3.8" fill="#3a5fcd" stroke="#1b2a60" class="pt"/>
<circle cx="126.1" cy="126.3" r="3.8" fill="#63b1f5" stroke="#23476e" class="pt"/>
<circle cx="121.2" cy="130.1" r="3.8" fill="#8b8272" stroke="#3a342c" class="pt"/>
<circle cx="133.2" cy="126.1" r="3.8" fill="#8b8272" stroke="#3a342c" class="pt"/>
<circle cx="149.1" cy="131.7" r="3.8" fill="#8b8272" stroke="#3a342c" class="pt"/>
<circle cx="131.1" cy="134.3" r="3.8" fill="#c3c3c3" stroke="#3a3a3a" class="pt"/>
<circle cx="147.4" cy="140.3" r="3.8" fill="#c3c3c3" stroke="#3a3a3a" class="pt"/>
<circle cx="134.6" cy="139.8" r="3.8" fill="#63b1f5" stroke="#23476e" class="pt"/>
<circle cx="94.7" cy="148.3" r="3.8" fill="#c3c3c3" stroke="#3a3a3a" class="pt"/>
<circle cx="198.9" cy="101.5" r="3.8" fill="#c3c3c3" stroke="#3a3a3a" class="pt"/>
<circle cx="193.5" cy="113.7" r="3.8" fill="#c3c3c3" stroke="#3a3a3a" class="pt"/>
<circle cx="117.7" cy="164.2" r="3.8" fill="#c3c3c3" stroke="#3a3a3a" class="pt"/>
<circle cx="116.9" cy="159.3" r="3.8" fill="#c3c3c3" stroke="#3a3a3a" class="pt"/>
<circle cx="140.7" cy="152.9" r="3.8" fill="#8b8272" stroke="#3a342c" class="pt"/>
<circle cx="131.8" cy="162.2" r="3.8" fill="#c3c3c3" stroke="#3a3a3a" class="pt"/>
<circle cx="131.7" cy="164.8" r="3.8" fill="#8b8272" stroke="#3a342c" class="pt"/>
<circle cx="138.8" cy="165.2" r="3.8" fill="#c3c3c3" stroke="#3a3a3a" class="pt"/>
<circle cx="139.0" cy="160.2" r="3.8" fill="#c3c3c3" stroke="#3a3a3a" class="pt"/>
<circle cx="142.5" cy="157.5" r="3.8" fill="#c3c3c3" stroke="#3a3a3a" class="pt"/>
</g>
<path d="M63.6,175.1L224.1,54.7" class="reg"/>
<path d="M309.0,166.9L431.9,51.5" class="reg"/>
<path d="M564.6,140.7L653.1,49.8" class="reg"/>
<path d="M124.7,379.3L194.6,313.9" class="reg"/>
<path d="M289.9,435.7L450.7,297.0" class="reg"/>
</svg>
</body></html>
